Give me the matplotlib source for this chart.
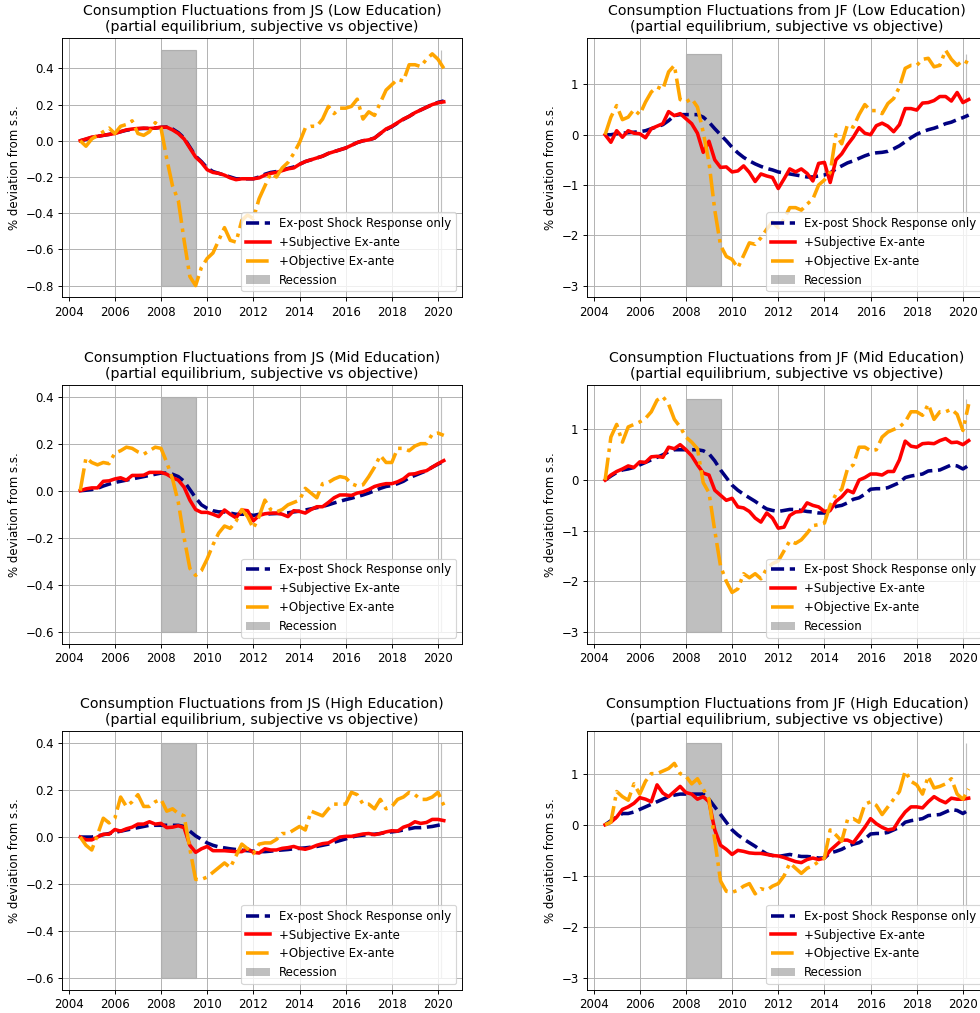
import numpy as np
import matplotlib
matplotlib.use("Agg")
import matplotlib.pyplot as plt
from matplotlib.patches import Patch

# quarterly dates, 2004Q3 .. 2020Q2
dates = np.arange(2004.5, 2020.26, 0.25)

# NBER recession episodes (start, end)
recession_start = [2008.0, 2020.15]
recession_end = [2009.5, 2020.15]

# --- JS, low education ---
js_low_expost = [
    0.0, 0.008,
    0.018, 0.024, 0.03, 0.035,
    0.042, 0.05, 0.058, 0.063,
    0.066, 0.068, 0.068, 0.07,
    0.074, 0.076, 0.065, 0.045,
    0.015, -0.035, -0.085, -0.115,
    -0.15, -0.17, -0.18, -0.19,
    -0.2, -0.21, -0.21, -0.21,
    -0.21, -0.2, -0.185, -0.175,
    -0.17, -0.162, -0.153, -0.145,
    -0.13, -0.115, -0.105, -0.095,
    -0.085, -0.07, -0.06, -0.05,
    -0.04, -0.025, -0.01, 0.0,
    0.005, 0.015, 0.04, 0.062,
    0.078, 0.098, 0.118, 0.135,
    0.155, 0.17, 0.185, 0.2,
    0.212, 0.22,
]
js_low_subj = [
    0.0, 0.01,
    0.02, 0.025, 0.03, 0.035,
    0.04, 0.05, 0.06, 0.065,
    0.068, 0.07, 0.068, 0.07,
    0.075, 0.075, 0.06, 0.04,
    0.01, -0.04, -0.09, -0.12,
    -0.16, -0.175, -0.18, -0.19,
    -0.205, -0.215, -0.21, -0.21,
    -0.21, -0.205, -0.19, -0.18,
    -0.175, -0.165, -0.155, -0.15,
    -0.13, -0.115, -0.105, -0.095,
    -0.085, -0.07, -0.06, -0.05,
    -0.04, -0.025, -0.01, 0.0,
    0.005, 0.015, 0.04, 0.065,
    0.08, 0.1, 0.12, 0.135,
    0.155, 0.17, 0.185, 0.2,
    0.21, 0.215,
]
js_low_obj = [
    0.0, -0.03,
    0.01, 0.03, 0.05, 0.07,
    0.04, 0.08, 0.09, 0.11,
    0.04, 0.03, 0.05, 0.1,
    0.07, -0.1, -0.25, -0.33,
    -0.55, -0.75, -0.8, -0.7,
    -0.65, -0.62, -0.55, -0.48,
    -0.55, -0.56, -0.44, -0.41,
    -0.43, -0.32, -0.25, -0.18,
    -0.2, -0.15, -0.12, -0.07,
    -0.01, 0.07, 0.08, 0.08,
    0.12, 0.19, 0.15, 0.18,
    0.18, 0.19, 0.23, 0.12,
    0.16, 0.14, 0.21, 0.28,
    0.31, 0.34, 0.33, 0.42,
    0.42, 0.41, 0.45, 0.48,
    0.45, 0.4,
]

# --- JF, low education ---
jf_low_expost = [
    0.0, 0.0,
    0.02, 0.03, 0.04, 0.05,
    0.06, 0.08, 0.12, 0.16,
    0.2, 0.28, 0.38, 0.4,
    0.4, 0.4, 0.4, 0.35,
    0.25, 0.12, 0.0, -0.12,
    -0.25, -0.36, -0.45, -0.52,
    -0.58, -0.63, -0.67, -0.7,
    -0.74, -0.76, -0.78, -0.8,
    -0.82, -0.84, -0.84, -0.82,
    -0.8, -0.76, -0.68, -0.62,
    -0.56, -0.52, -0.47, -0.42,
    -0.38, -0.36, -0.35, -0.33,
    -0.28, -0.22, -0.14, -0.06,
    0.01, 0.06, 0.1, 0.13,
    0.17, 0.22, 0.25, 0.3,
    0.34, 0.39,
]
jf_low_subj = [
    0.0, -0.15,
    0.08, -0.05, 0.08, 0.03,
    0.02, -0.06, 0.12, 0.17,
    0.22, 0.46, 0.38, 0.42,
    0.32, 0.22, 0.03, -0.35,
    -0.13, -0.5, -0.65, -0.64,
    -0.74, -0.72, -0.62, -0.75,
    -0.93, -0.78, -0.82, -0.85,
    -1.07, -0.88, -0.68, -0.74,
    -0.68, -0.77, -0.92, -0.57,
    -0.55, -0.95, -0.5, -0.38,
    -0.2, -0.05, 0.14, 0.03,
    0.0, 0.18, 0.23, 0.17,
    0.06, 0.2, 0.52, 0.52,
    0.49, 0.63, 0.64, 0.68,
    0.76, 0.76, 0.67, 0.84,
    0.64, 0.7,
]
jf_low_obj = [
    0.0, 0.35,
    0.58, 0.3, 0.35, 0.5,
    0.4, 0.65, 0.85, 0.95,
    0.9, 1.25, 1.38, 0.7,
    0.65, 0.72, 0.55, 0.05,
    -0.55, -1.5, -2.2, -2.42,
    -2.48, -2.65, -2.4, -2.15,
    -2.18, -2.05, -1.88, -1.73,
    -1.85, -1.68, -1.45, -1.45,
    -1.5, -1.38, -1.28, -1.0,
    -0.9, -0.75, 0.0, -0.18,
    0.2, 0.15, 0.4, 0.6,
    0.48, 0.48, 0.42, 0.62,
    0.72, 0.95, 1.32, 1.38,
    1.38, 1.5, 1.52, 1.35,
    1.38, 1.68, 1.5, 1.38,
    1.48, 1.42,
]

# --- JS, mid education ---
js_mid_expost = [
    0.0, 0.002,
    0.005, 0.01, 0.02, 0.028,
    0.035, 0.04, 0.045, 0.05,
    0.055, 0.06, 0.065, 0.07,
    0.075, 0.075, 0.07, 0.06,
    0.04, 0.005, -0.03, -0.06,
    -0.075, -0.085, -0.09, -0.09,
    -0.095, -0.1, -0.1, -0.1,
    -0.105, -0.1, -0.1, -0.098,
    -0.097, -0.096, -0.094, -0.09,
    -0.087, -0.082, -0.077, -0.072,
    -0.067, -0.06, -0.052, -0.045,
    -0.038, -0.032, -0.025, -0.018,
    -0.01, 0.0, 0.01, 0.018,
    0.022, 0.03, 0.04, 0.055,
    0.065, 0.075, 0.085, 0.1,
    0.113, 0.125,
]
js_mid_subj = [
    0.0, 0.008,
    0.012, 0.012, 0.04, 0.042,
    0.05, 0.055, 0.045, 0.065,
    0.065, 0.066, 0.078, 0.078,
    0.078, 0.07, 0.055, 0.045,
    0.015, -0.04, -0.08, -0.092,
    -0.092, -0.1, -0.11, -0.082,
    -0.1, -0.115, -0.082, -0.085,
    -0.128, -0.105, -0.098, -0.095,
    -0.095, -0.1, -0.11, -0.085,
    -0.088, -0.095, -0.08, -0.068,
    -0.068, -0.05, -0.03, -0.018,
    -0.018, -0.02, -0.01, -0.005,
    0.005, 0.018, 0.025, 0.03,
    0.03, 0.038, 0.05, 0.07,
    0.072, 0.08, 0.085, 0.1,
    0.115, 0.128,
]
js_mid_obj = [
    0.0, 0.14,
    0.12, 0.11, 0.12, 0.115,
    0.16, 0.17, 0.185, 0.18,
    0.165, 0.155, 0.17, 0.185,
    0.18, 0.12, 0.05, -0.05,
    -0.2, -0.33, -0.36, -0.34,
    -0.29, -0.23, -0.18, -0.15,
    -0.16, -0.13, -0.08, -0.11,
    -0.16, -0.11, -0.04, -0.08,
    -0.09, -0.08, -0.06, -0.05,
    -0.04, 0.01, -0.01, -0.03,
    0.03, 0.035, 0.05, 0.06,
    0.055, 0.03, 0.02, 0.025,
    0.06, 0.1, 0.15, 0.12,
    0.12, 0.18, 0.18, 0.17,
    0.19, 0.2, 0.2, 0.24,
    0.245, 0.235,
]

# --- JF, mid education ---
jf_mid_expost = [
    0.0, 0.08,
    0.15, 0.2, 0.22, 0.25,
    0.3, 0.35, 0.4, 0.45,
    0.5, 0.56, 0.6, 0.6,
    0.6, 0.6, 0.6, 0.58,
    0.52, 0.38, 0.2, 0.05,
    -0.1, -0.2, -0.28, -0.35,
    -0.42, -0.5, -0.57, -0.6,
    -0.62, -0.6, -0.58, -0.58,
    -0.6, -0.62, -0.63, -0.65,
    -0.65, -0.6, -0.52, -0.5,
    -0.45, -0.38, -0.35, -0.28,
    -0.18, -0.17, -0.17, -0.15,
    -0.1, -0.05, 0.05, 0.08,
    0.1, 0.12, 0.18, 0.19,
    0.2, 0.25, 0.3, 0.28,
    0.22, 0.29,
]
jf_mid_subj = [
    0.0, 0.1,
    0.17, 0.22, 0.28, 0.25,
    0.36, 0.35, 0.46, 0.47,
    0.45, 0.65, 0.62, 0.7,
    0.6, 0.48, 0.3, 0.14,
    0.1, -0.2, -0.3, -0.4,
    -0.36, -0.53, -0.55, -0.62,
    -0.75, -0.83, -0.65, -0.75,
    -0.95, -0.93, -0.7, -0.63,
    -0.62, -0.45, -0.5, -0.53,
    -0.62, -0.6, -0.42, -0.33,
    -0.2, -0.25, 0.0, 0.05,
    0.12, 0.12, 0.1, 0.17,
    0.17, 0.4, 0.77, 0.67,
    0.65, 0.72, 0.73, 0.72,
    0.78, 0.82, 0.74, 0.75,
    0.7, 0.78,
]
jf_mid_obj = [
    0.0, 0.85,
    1.1, 0.75, 1.05, 1.1,
    1.15, 1.22, 1.35, 1.58,
    1.65, 1.5, 1.2, 1.05,
    0.85, 0.75, 0.62, -0.05,
    -0.25, -1.0, -1.7, -2.0,
    -2.22, -2.15, -1.85, -1.93,
    -1.85, -1.95, -1.75, -1.65,
    -1.6, -1.4, -1.2, -1.25,
    -1.18, -1.05, -0.9, -0.88,
    -0.85, -0.5, -0.28, -0.18,
    0.22, 0.3, 0.65, 0.65,
    0.58, 0.6, 0.85, 0.95,
    1.0, 1.05, 1.15, 1.35,
    1.35, 1.28, 1.5, 1.2,
    1.35, 1.35, 1.4, 1.3,
    0.98, 1.5,
]

# --- JS, high education ---
js_high_expost = [
    0.0, 0.0,
    0.0, 0.005, 0.01, 0.015,
    0.02, 0.025, 0.03, 0.035,
    0.04, 0.045, 0.05, 0.05,
    0.05, 0.05, 0.05, 0.05,
    0.045, 0.025, 0.005, -0.01,
    -0.025, -0.035, -0.042, -0.046,
    -0.05, -0.053, -0.056, -0.058,
    -0.06, -0.062, -0.062, -0.06,
    -0.057, -0.055, -0.053, -0.05,
    -0.048, -0.046, -0.043, -0.04,
    -0.035, -0.03, -0.022, -0.015,
    -0.008, 0.0, 0.005, 0.008,
    0.01, 0.012, 0.015, 0.02,
    0.022, 0.025, 0.03, 0.035,
    0.04, 0.04, 0.042, 0.045,
    0.05, 0.055,
]
js_high_subj = [
    0.0, -0.012,
    -0.012, 0.0, 0.012, 0.012,
    0.032, 0.025, 0.035, 0.042,
    0.055, 0.055, 0.065, 0.055,
    0.058, 0.04, 0.042, 0.048,
    0.04, -0.035, -0.065, -0.05,
    -0.04, -0.058, -0.058, -0.058,
    -0.06, -0.062, -0.062, -0.05,
    -0.065, -0.068, -0.05, -0.055,
    -0.055, -0.048, -0.045, -0.04,
    -0.048, -0.052, -0.045, -0.035,
    -0.028, -0.025, -0.012, 0.0,
    0.003, 0.003, 0.008, 0.013,
    0.015, 0.01, 0.015, 0.022,
    0.027, 0.025, 0.042, 0.05,
    0.065, 0.058, 0.062, 0.075,
    0.075, 0.07,
]
js_high_obj = [
    0.0, -0.035,
    -0.055, 0.01, 0.08, 0.06,
    0.08, 0.17, 0.13, 0.15,
    0.18, 0.13, 0.13, 0.15,
    0.16, 0.11, 0.12, 0.1,
    0.09, -0.05, -0.18, -0.18,
    -0.17, -0.15, -0.13, -0.11,
    -0.13, -0.08, -0.03, -0.05,
    -0.07, -0.03, -0.025, -0.025,
    -0.01, 0.015, 0.015, 0.03,
    0.045, 0.03, 0.11, 0.1,
    0.09, 0.12, 0.14, 0.14,
    0.14, 0.19, 0.18, 0.14,
    0.14, 0.12, 0.16, 0.12,
    0.13, 0.16, 0.17, 0.19,
    0.18, 0.16, 0.16, 0.17,
    0.19, 0.135,
]

# --- JF, high education ---
jf_high_expost = [
    0.0, 0.08,
    0.15, 0.22, 0.22, 0.25,
    0.3, 0.35, 0.4, 0.45,
    0.5, 0.55, 0.58, 0.6,
    0.6, 0.6, 0.6, 0.6,
    0.5, 0.35, 0.2, 0.05,
    -0.1, -0.2, -0.28, -0.35,
    -0.42, -0.5, -0.57, -0.6,
    -0.62, -0.6, -0.58, -0.6,
    -0.62, -0.62, -0.63, -0.65,
    -0.65, -0.55, -0.52, -0.48,
    -0.42, -0.38, -0.35, -0.28,
    -0.18, -0.17, -0.17, -0.15,
    -0.1, -0.05, 0.05, 0.08,
    0.1, 0.12, 0.18, 0.19,
    0.2, 0.25, 0.3, 0.28,
    0.22, 0.29,
]
jf_high_subj = [
    0.0, 0.05,
    0.15, 0.3, 0.35, 0.42,
    0.53, 0.5, 0.45, 0.78,
    0.62, 0.55, 0.65, 0.75,
    0.63, 0.6, 0.5, 0.55,
    0.45, -0.1, -0.4, -0.48,
    -0.58, -0.5, -0.52, -0.55,
    -0.56, -0.56, -0.58, -0.6,
    -0.61, -0.64, -0.68, -0.72,
    -0.74, -0.68, -0.65, -0.68,
    -0.65, -0.5, -0.4, -0.3,
    -0.3, -0.35, -0.2, -0.05,
    0.12, 0.02, -0.05, -0.1,
    -0.08, 0.1, 0.25, 0.35,
    0.35, 0.33, 0.45, 0.55,
    0.48, 0.43, 0.52, 0.5,
    0.5, 0.52,
]
jf_high_obj = [
    0.0, 0.05,
    0.65, 0.55, 0.48, 0.8,
    0.6, 0.85, 1.0, 1.0,
    1.05, 1.1, 1.2, 1.0,
    0.95, 0.8, 0.9, 0.7,
    0.5, -0.3, -1.1, -1.3,
    -1.32, -1.28, -1.2, -1.15,
    -1.35, -1.25, -1.28, -1.2,
    -1.15, -1.0, -0.75, -0.85,
    -0.95, -0.85, -0.8, -0.72,
    -0.65, -0.1, -0.2, -0.32,
    0.1, 0.12, 0.05, 0.4,
    0.45, 0.38, 0.2, 0.35,
    0.5, 0.65, 1.05, 0.85,
    0.78, 0.6, 0.95, 0.72,
    0.75, 0.8, 0.9, 0.6,
    0.5, 0.7,
]

# y-extent of the recession shading in each panel
js_band = {"low": (-0.8, 0.5), "mid": (-0.6, 0.4), "high": (-0.6, 0.4)}
jf_band = (-3.0, 1.6)

panels = [
    ("JS", "Low", js_low_expost, js_low_subj, js_low_obj, js_band["low"]),
    ("JF", "Low", jf_low_expost, jf_low_subj, jf_low_obj, jf_band),
    ("JS", "Mid", js_mid_expost, js_mid_subj, js_mid_obj, js_band["mid"]),
    ("JF", "Mid", jf_mid_expost, jf_mid_subj, jf_mid_obj, jf_band),
    ("JS", "High", js_high_expost, js_high_subj, js_high_obj, js_band["high"]),
    ("JF", "High", jf_high_expost, jf_high_subj, jf_high_obj, jf_band),
]

DPI = 85
fig, axes = plt.subplots(3, 2, figsize=(980 / DPI, 1013 / DPI), dpi=DPI)
fig.subplots_adjust(left=0.0633, right=1.007, top=0.962, bottom=0.0227,
                    wspace=0.3125, hspace=0.338)

for ax, (src, edu, expost, subj, obj, band) in zip(axes.flat, panels):
    ax.plot(dates, expost, color="navy", linestyle="--", linewidth=3,
            label="Ex-post Shock Response only")
    ax.plot(dates, subj, color="red", linestyle="-", linewidth=3,
            label="+Subjective Ex-ante")
    ax.plot(dates, obj, color="orange", linestyle="-.", linewidth=3,
            label="+Objective Ex-ante")
    for start, end in zip(recession_start, recession_end):
        ax.fill_between([start, end], band[0], band[1], color="gray", alpha=0.5)
    ax.set_title(f"Consumption Fluctuations from {src} ({edu} Education)\n"
                 "(partial equilibrium, subjective vs objective)")
    ax.set_ylabel("% deviation from s.s.")
    ax.set_xticks(np.arange(2004, 2021, 2))
    ax.grid(True)
    handles, labels = ax.get_legend_handles_labels()
    handles.append(Patch(facecolor="gray", alpha=0.5))
    labels.append("Recession")
    ax.legend(handles, labels, loc="lower right")

fig.savefig("out.png", dpi=DPI)
